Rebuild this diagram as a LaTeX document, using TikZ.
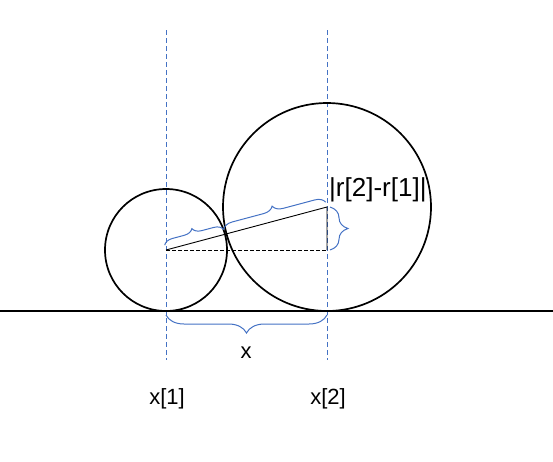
\documentclass[tikz,border=0pt]{standalone}
\usepackage{fontspec}
\setmainfont{Liberation Sans}
\usetikzlibrary{calc, decorations.pathreplacing}
\definecolor{guide}{RGB}{68,114,196}
\tikzset{
	guideline/.style={guide, dash pattern=on 5pt off 3pt, line width=0.7pt},
	bracelab/.style={guide, line width=1pt, decorate},
	lab/.style={font=\fontsize{22}{26}\selectfont, inner sep=0pt}
}
\begin{document}
\begin{tikzpicture}[x=1pt, y=-1pt]
		\useasboundingbox (0, 0) rectangle (553, 461);
		\coordinate (c1) at (166, 250);
		\coordinate (c2) at (327, 207);
		\coordinate (foot) at (327, 250);
		\coordinate (touch) at ($(c1)!61/166.6!(c2)$);
		\coordinate (g1) at (166, 311);
		\coordinate (g2) at (327, 311);
		\coordinate (left) at (0, 311);
		\coordinate (right) at (553, 311);
		\draw[guideline] (166, 30) coordinate (t1) -- (166, 360) coordinate (b1);
		\draw[guideline] (327, 30) coordinate (t2) -- (327, 360) coordinate (b2);
		\draw[line width=1.8pt] (left) -- (right);
		\draw[line width=1.7pt] (c1) circle (61);
		\draw[line width=1.7pt] (c2) circle (104);
		\draw[line width=0.9pt] (c1) -- (c2) -- (foot);
		\draw[line width=0.9pt, dash pattern=on 4pt off 2pt] (c1) -- (foot);
		\draw[bracelab, decoration={brace, amplitude=9pt, raise=5pt}] (c1) -- (touch);
		\draw[bracelab, decoration={brace, amplitude=10pt, raise=5pt}] (touch) -- (c2);
		\draw[bracelab, decoration={brace, amplitude=18pt, raise=3pt}] (c2) -- (foot);
		\draw[bracelab, decoration={brace, amplitude=18pt, raise=4pt}] (g2) -- (g1);
		\node[lab] (dist) at (246, 353) {x};
		\node[lab] (x1) at (167, 399) {x[1]};
		\node[lab] (x2) at (328, 399) {x[2]};
		\node[lab, font=\fontsize{26}{30}\selectfont, anchor=west] (dr) at (329, 190) {|r[2]-r[1]|};
	\end{tikzpicture}
\end{document}
